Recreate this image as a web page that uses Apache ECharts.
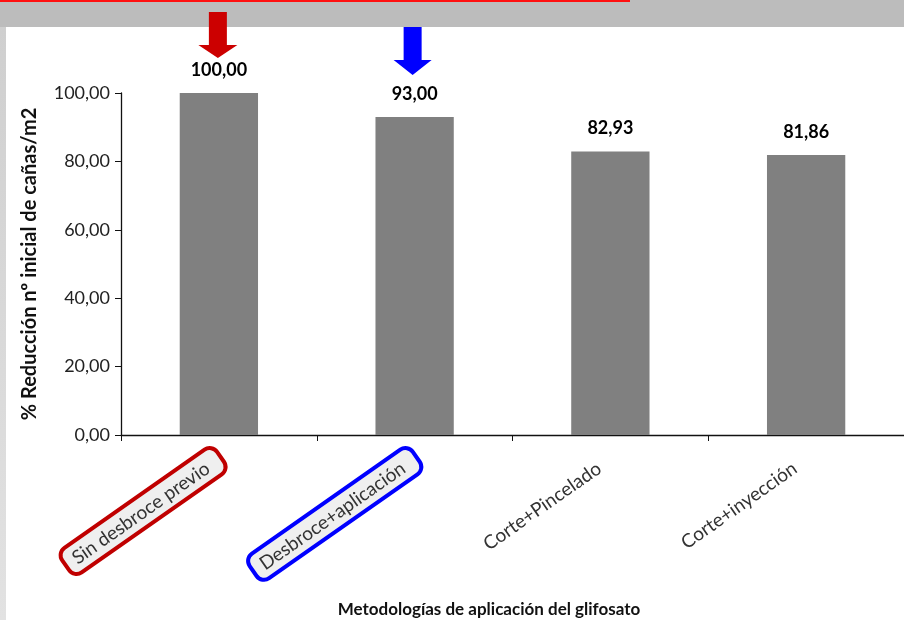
<!DOCTYPE html>
<html>
<head>
<meta charset="utf-8">
<script src="https://cdn.jsdelivr.net/npm/echarts@6/dist/echarts.min.js"></script>
<style>
  html, body { margin: 0; padding: 0; background: #ffffff; }
  #chart { width: 904px; height: 620px; }
</style>
</head>
<body>
<div id="chart"></div>
<script>
// Application methods and the resulting reduction of initial cane count per m2
const categories = ['Sin desbroce previo', 'Desbroce+aplicación', 'Corte+Pincelado', 'Corte+inyección'];
const reduction = [100.00, 93.00, 82.93, 81.86];
// Label frame colour per category (null = no frame)
const labelFrames = ['red', 'blue', null, null];
const yMin = 0, yMax = 100, yStep = 20;

const FONT = 'Lato, "Open Sans", sans-serif';
const fmt = v => Number(v).toFixed(2).replace('.', ',');

const chart = echarts.init(document.getElementById('chart'), null, { renderer: 'canvas' });

const baseLabel = { fontFamily: FONT, fontSize: 19, color: '#333333', padding: [4, 14, 3, 8] };

chart.setOption({
  backgroundColor: '#ffffff',
  animation: false,
  title: {
    text: 'Metodologías de aplicación del glifosato',
    left: 489,
    top: 601,
    textAlign: 'center',
    padding: 0,
    textStyle: { fontFamily: FONT, fontSize: 17, fontWeight: 'bold', color: '#111111' }
  },
  grid: { left: 121, right: -6, top: 93, bottom: 185, containLabel: false },
  xAxis: {
    type: 'category',
    data: categories,
    axisLine: { lineStyle: { color: '#111111', width: 1.3 } },
    axisTick: { show: true, length: 6, lineStyle: { color: '#111111' } },
    axisLabel: {
      rotate: 35,
      margin: 23,
      interval: 0,
      formatter: (value, idx) => {
        const f = labelFrames[idx];
        return '{' + (f || 'plain') + '|' + value + '}';
      },
      rich: {
        plain: Object.assign({}, baseLabel),
        red: Object.assign({}, baseLabel, {
          backgroundColor: '#efefef', borderColor: '#c00000', borderWidth: 4, borderRadius: 7
        }),
        blue: Object.assign({}, baseLabel, {
          backgroundColor: '#efefef', borderColor: '#0000ff', borderWidth: 4, borderRadius: 7
        })
      }
    }
  },
  yAxis: {
    type: 'value',
    min: yMin,
    max: yMax,
    interval: yStep,
    name: '% Reducción nº inicial de cañas/m2',
    nameLocation: 'middle',
    nameGap: 81,
    nameTextStyle: { fontFamily: FONT, fontSize: 20, fontWeight: 'bold', color: '#111111' },
    splitLine: { show: false },
    axisLine: { show: true, lineStyle: { color: '#111111', width: 1.3 } },
    axisTick: { show: true, length: 6, lineStyle: { color: '#111111' } },
    axisLabel: { fontFamily: FONT, fontSize: 18, color: '#222222', margin: 11, formatter: v => fmt(v) }
  },
  series: [{
    type: 'bar',
    data: reduction,
    barWidth: '40%',
    itemStyle: { color: '#808080' },
    label: {
      show: true,
      position: 'top',
      distance: 14,
      formatter: p => fmt(p.value),
      fontFamily: FONT,
      fontSize: 18,
      fontWeight: 'bold',
      color: '#000000'
    }
  }]
});

// Frame of the slide: grey header band, red rule, light left strip,
// and the two arrows pointing at the highlighted methods.
function arrow(cx, top, headBase, tip, shaftHalf, headHalf, color) {
  return {
    type: 'polygon',
    z: 10,
    shape: {
      points: [
        [cx - shaftHalf, top], [cx + shaftHalf, top], [cx + shaftHalf, headBase],
        [cx + headHalf, headBase], [cx, tip], [cx - headHalf, headBase],
        [cx - shaftHalf, headBase]
      ]
    },
    style: { fill: color }
  };
}
const x0 = chart.convertToPixel({ xAxisIndex: 0 }, categories[0]);
const x1 = chart.convertToPixel({ xAxisIndex: 0 }, categories[1]);

chart.setOption({
  graphic: [
    { type: 'rect', z: 1, shape: { x: 0, y: 0, width: 904, height: 27 }, style: { fill: '#bcbcbc' } },
    {
      type: 'rect', z: 1, shape: { x: 0, y: 27, width: 6, height: 593 },
      style: { fill: new echarts.graphic.LinearGradient(0, 0, 0, 1, [
        { offset: 0, color: '#cfcfcf' }, { offset: 1, color: '#e2e2e2' }
      ]) }
    },
    { type: 'rect', z: 2, shape: { x: 0, y: 0, width: 630, height: 2 }, style: { fill: '#ff1010' } },
    arrow(x0 - 1, 12, 45, 58, 9, 19.5, '#cc0000'),
    arrow(x1 - 2, 27, 60, 75, 9, 19, '#0000ff')
  ]
});
</script>
</body>
</html>
